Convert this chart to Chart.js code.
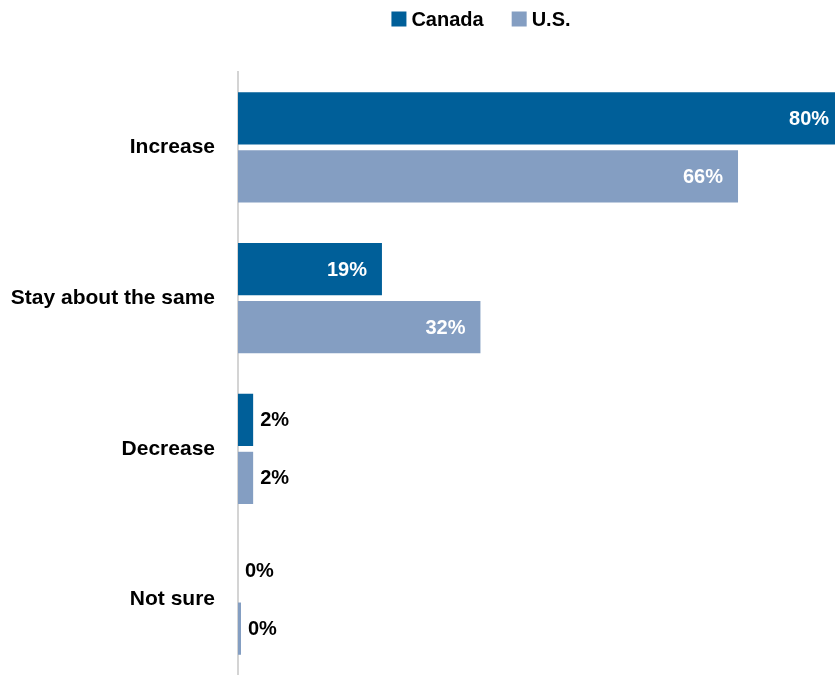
<!DOCTYPE html>
<html>
<head>
<meta charset="utf-8">
<script src="https://cdn.jsdelivr.net/npm/chart.js@4"></script>
<style>
  html, body { margin: 0; padding: 0; background: #ffffff; overflow: hidden; }
  canvas { display: block; }
</style>
</head>
<body>
<canvas id="chart" width="835" height="675"></canvas>
<script>
// Survey answers and the share of respondents in each country
const categories = ['Increase', 'Stay about the same', 'Decrease', 'Not sure'];
const canadaValues = [80, 19, 2, 0];
const usValues = [66, 32, 2, 0];
const seriesNames = ['Canada', 'U.S.'];

const CANADA_COLOR = '#005F99';
const US_COLOR = '#849EC2';
const FONT = "'Liberation Sans', Arial, sans-serif";

// Writes the percentage on every bar: white inside long bars, black just past short ones
const valueLabels = {
  id: 'valueLabels',
  afterDatasetsDraw(chart) {
    const ctx = chart.ctx;
    ctx.save();
    ctx.font = 'bold 20px ' + FONT;
    ctx.textBaseline = 'middle';
    chart.data.datasets.forEach((ds, i) => {
      const meta = chart.getDatasetMeta(i);
      meta.data.forEach((bar, j) => {
        const v = ds.data[j];
        const text = v + '%';
        if (v >= 10) {
          ctx.fillStyle = '#ffffff';
          ctx.textAlign = 'right';
          ctx.fillText(text, bar.x - 15, bar.y + 1);
        } else {
          ctx.fillStyle = '#000000';
          ctx.textAlign = 'left';
          ctx.fillText(text, bar.x + 7, bar.y + 1);
        }
      });
    });
    ctx.restore();
  }
};

// Series key along the top: square swatch followed by the series name
const seriesKey = {
  id: 'seriesKey',
  afterDraw(chart) {
    const ctx = chart.ctx;
    const box = 15, gapText = 5, gapItem = 28, centerX = 481, midY = 19;
    ctx.save();
    ctx.font = 'bold 20px ' + FONT;
    ctx.textBaseline = 'middle';
    ctx.textAlign = 'left';
    const items = chart.data.datasets.map(ds => ({
      name: ds.label,
      color: ds.backgroundColor,
      w: ctx.measureText(ds.label).width
    }));
    let total = 0;
    items.forEach((it, k) => {
      total += box + gapText + it.w + (k ? gapItem : 0);
    });
    let x = centerX - total / 2;
    items.forEach(it => {
      ctx.fillStyle = it.color;
      ctx.fillRect(x, midY - box / 2, box, box);
      ctx.fillStyle = '#000000';
      ctx.fillText(it.name, x + box + gapText, midY + 1);
      x += box + gapText + it.w + gapItem;
    });
    ctx.restore();
  }
};

new Chart(document.getElementById('chart'), {
  type: 'bar',
  data: {
    labels: categories,
    datasets: [
      {
        label: seriesNames[0],
        data: canadaValues,
        backgroundColor: CANADA_COLOR,
        categoryPercentage: 0.77,
        barPercentage: 0.9
      },
      {
        label: seriesNames[1],
        data: usValues,
        backgroundColor: US_COLOR,
        categoryPercentage: 0.77,
        barPercentage: 0.9,
        minBarLength: 3
      }
    ]
  },
  options: {
    indexAxis: 'y',
    responsive: false,
    animation: false,
    layout: { padding: { top: 72, right: 0, bottom: -3, left: 0 } },
    plugins: {
      tooltip: { enabled: false },
      legend: { display: false }
    },
    scales: {
      x: {
        display: false,
        min: 0,
        max: 78.8
      },
      y: {
        grid: { display: false, drawTicks: false },
        border: { display: true, color: '#D4D4D4', width: 2 },
        ticks: {
          color: '#000000',
          padding: 23,
          font: { family: FONT, size: 21, weight: 'bold' }
        },
        afterFit(scale) {
          // fixed axis width; the plot runs right down to the bottom edge
          scale.width = 238;
          scale.paddingTop = 0;
          scale.paddingBottom = 0;
        }
      }
    }
  },
  plugins: [valueLabels, seriesKey]
});
</script>
</body>
</html>
